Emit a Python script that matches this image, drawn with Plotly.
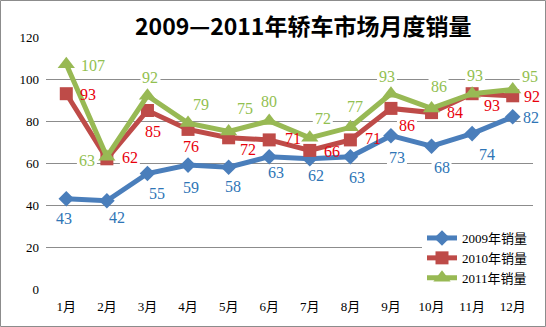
import plotly.graph_objects as go

months = ["1月", "2月", "3月", "4月", "5月", "6月", "7月", "8月", "9月", "10月", "11月", "12月"]
sales_2009 = [43, 42, 55, 59, 58, 63, 62, 63, 73, 68, 74, 82]
sales_2010 = [93, 62, 85, 76, 72, 71, 66, 71, 86, 84, 93, 92]
sales_2011 = [107, 63, 92, 79, 75, 80, 72, 77, 93, 86, 93, 95]
series_names = ["2009年销量", "2010年销量", "2011年销量"]
y_ticks = [0, 20, 40, 60, 80, 100, 120]

# label offsets in pixels (dx right, dy down) for each point
off_2009 = [(-2, 20), (10, 17), (10, 20), (3, 22), (4, 19), (7, 16),
            (6, 17), (7, 21), (6, 22), (10, 21), (15, 21), (18, 1)]
off_2010 = [(22, 1), (23, -1), (6, 21), (3, 17), (19, 12), (24, -1),
            (22, 1), (23, -1), (16, 17), (23, 0), (20, 12), (19, 1)]
off_2011 = [(27, 1), (-20, 4), (3, -18), (13, -19), (16, -23), (0, -20),
            (13, -19), (5, -21), (-4, -17), (7, -22), (3, -18), (17, -13)]

line_colors = ["#4A7EBB", "#BE4B48", "#98B954"]
label_colors = ["#2E75B6", "#E8000B", "#92C050"]
symbols = ["diamond", "square", "triangle-up"]
msizes = [12, 13, 15]

W, H = 546, 327
ML, MR, MT, MB = 46, 13, 37, 38
PW, PH = W - ML - MR, H - MT - MB

fig = go.Figure()
all_series = [sales_2009, sales_2010, sales_2011]
all_offsets = [off_2009, off_2010, off_2011]

for vals, name, lc, sym, ms in zip(all_series, series_names, line_colors, symbols, msizes):
    fig.add_trace(go.Scatter(
        x=months, y=vals, name=name, mode="lines+markers",
        line=dict(color=lc, width=5),
        marker=dict(symbol=sym, size=ms, color=lc),
    ))

annotations = []
shapes = []
for vals, offs, col in zip(all_series, all_offsets, label_colors):
    for m, v, (dx, dy) in zip(months, vals, offs):
        txt = str(v)
        annotations.append(dict(
            x=m, y=v, xref="x", yref="y", text=txt, showarrow=False,
            xshift=dx, yshift=-dy,
            font=dict(family="Liberation Serif", size=16, color=col),
        ))
        # white patch behind the label: hides gridlines, stays under the lines
        hw = len(txt) * 4 + 2
        shapes.append(dict(
            type="rect", xref="x", yref="y", xsizemode="pixel", ysizemode="pixel",
            xanchor=m, yanchor=v,
            x0=dx - hw, x1=dx + hw, y0=-dy - 8, y1=-dy + 8,
            fillcolor="white", line=dict(width=0), layer="between",
        ))

# chart title on a white box over the top gridline
annotations.append(dict(
    x=(303 - ML) / PW, y=(H - MB - 25) / PH, xref="paper", yref="paper",
    xanchor="center", yanchor="middle", showarrow=False, bgcolor="white",
    borderpad=3,
    text="<b>2009—2011年轿车市场月度销量</b>",
    font=dict(family="Noto Sans CJK SC", size=23, color="black"),
))

# outer chart border
shapes.append(dict(
    type="rect", xref="paper", yref="paper",
    x0=(0.5 - ML) / PW, x1=(W - 0.5 - ML) / PW,
    y0=(H - MB - (H - 0.5)) / PH, y1=(H - MB - 0.5) / PH,
    line=dict(color="#8C8C8C", width=1), layer="above",
))

fig.update_layout(
    width=W, height=H,
    margin=dict(l=ML, r=MR, t=MT, b=MB),
    paper_bgcolor="white", plot_bgcolor="white",
    showlegend=True,
    legend=dict(
        x=(533 - ML) / PW, y=(H - MB - 223) / PH, xanchor="right", yanchor="top",
        bgcolor="white", font=dict(family="Liberation Serif, Noto Sans CJK SC", size=13, color="black"),
        itemwidth=30, tracegroupgap=0,
    ),
    annotations=annotations,
    shapes=shapes,
)

fig.update_xaxes(
    type="category", range=[-0.5, 11.5], showgrid=False, showline=False,
    ticks="", ticklabelstandoff=8,
    tickfont=dict(family="Liberation Serif, Noto Sans CJK SC", size=13, color="black"),
)
fig.update_yaxes(
    range=[0, 120], tickvals=y_ticks, showgrid=True, gridcolor="#8C8C8C",
    gridwidth=1, zeroline=False, showline=False, ticks="", ticklabelstandoff=6,
    tickfont=dict(family="Liberation Serif", size=13, color="black"),
)

fig.write_html("out.html")
